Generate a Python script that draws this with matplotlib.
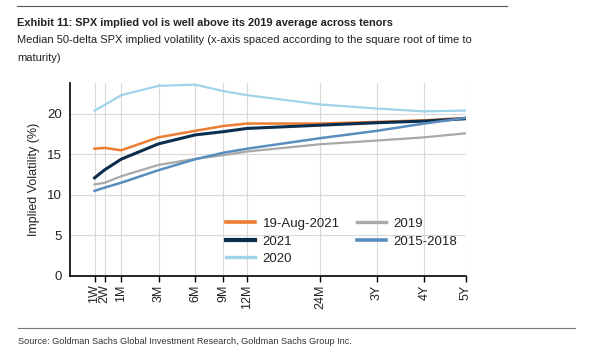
import numpy as np
import matplotlib
matplotlib.use("Agg")
import matplotlib.pyplot as plt
from matplotlib.lines import Line2D

# tenors in years, plotted on sqrt(time) axis
tenor_labels = ["1W", "2W", "1M", "3M", "6M", "9M", "12M", "24M", "3Y", "4Y", "5Y"]
tenor_years = [1 / 52, 2 / 52, 1 / 12, 3 / 12, 6 / 12, 9 / 12, 1.0, 2.0, 3.0, 4.0, 5.0]

vol_aug2021 = [15.7, 15.8, 15.5, 17.1, 17.9, 18.5, 18.8, 18.8, 19.0, 19.2, 19.5]
vol_2021 = [12.1, 13.1, 14.4, 16.3, 17.4, 17.8, 18.2, 18.6, 18.9, 19.1, 19.4]
vol_2020 = [20.4, 21.1, 22.3, 23.45, 23.6, 22.8, 22.3, 21.15, 20.65, 20.3, 20.4]
vol_2019 = [11.3, 11.5, 12.3, 13.7, 14.45, 14.9, 15.35, 16.25, 16.7, 17.1, 17.6]
vol_1518 = [10.5, 10.9, 11.5, 13.05, 14.4, 15.2, 15.7, 17.0, 17.9, 18.8, 19.5]

series = [
    ("19-Aug-2021", vol_aug2021, "#ED7D31", 1.8),
    ("2021", vol_2021, "#0B2D4E", 2.2),
    ("2020", vol_2020, "#9FD3EA", 1.6),
    ("2019", vol_2019, "#A8A8A8", 1.6),
    ("2015-2018", vol_1518, "#5A8DBF", 1.8),
]

plt.rcParams["font.family"] = ["Liberation Sans", "DejaVu Sans"]

fig = plt.figure(figsize=(5.93, 3.56), dpi=100)
ax = fig.add_axes([70 / 593, 1 - 276 / 356, (466 - 70) / 593, (276 - 83) / 356])

x = np.sqrt(tenor_years)
handles = []
for name, vals, color, lw in series:
    ax.plot(x, vals, color=color, lw=lw, zorder=3)
    handles.append(Line2D([], [], color=color, lw=lw + 0.8))

ax.set_xlim(0, np.sqrt(5))
ax.set_ylim(0, 23.8)
ax.set_xticks(x)
ax.set_xticklabels(tenor_labels, rotation=90, fontsize=9, color="#222222")
ax.set_yticks([0, 5, 10, 15, 20])
ax.tick_params(axis="y", length=0, labelsize=9.5, colors="#222222", pad=6)
ax.tick_params(axis="x", length=4, width=1, direction="out", pad=2)
ax.grid(True, color="#D9D9D9", lw=0.8, zorder=0)
ax.set_axisbelow(True)
for s in ["top", "right"]:
    ax.spines[s].set_visible(False)
ax.spines["left"].set_linewidth(1.2)
ax.spines["bottom"].set_linewidth(1.2)
ax.set_ylabel("Implied Volatility (%)", fontsize=9, color="#222222", labelpad=5)

leg = ax.legend(handles, [s[0] for s in series],
                ncol=2, frameon=False, fontsize=9.5, loc="lower left",
                bbox_to_anchor=(0.363, -0.005), handlelength=2.2, handletextpad=0.6,
                columnspacing=1.3, labelspacing=0.4)
for t in leg.get_texts():
    t.set_color("#222222")

# header and footer
fig.add_artist(Line2D([17 / 593, 507 / 593], [1 - 6 / 356] * 2, color="#555555", lw=0.8))
fig.text(17 / 593, 1 - 23 / 356, "Exhibit 11: SPX implied vol is well above its 2019 average across tenors",
         fontsize=7.95, fontweight="bold", va="center", color="#222222")
fig.text(17 / 593, 1 - 35 / 356,
         "Median 50-delta SPX implied volatility (x-axis spaced according to the square root of time to\nmaturity)",
         fontsize=8.05, va="top", linespacing=1.95, color="#222222")
fig.add_artist(Line2D([18 / 593, 575 / 593], [1 - 328 / 356] * 2, color="#777777", lw=0.8))
fig.text(18 / 593, 1 - 341 / 356,
         "Source: Goldman Sachs Global Investment Research, Goldman Sachs Group Inc.",
         fontsize=6.6, va="center", color="#333333")

fig.savefig("out.png", dpi=100)
